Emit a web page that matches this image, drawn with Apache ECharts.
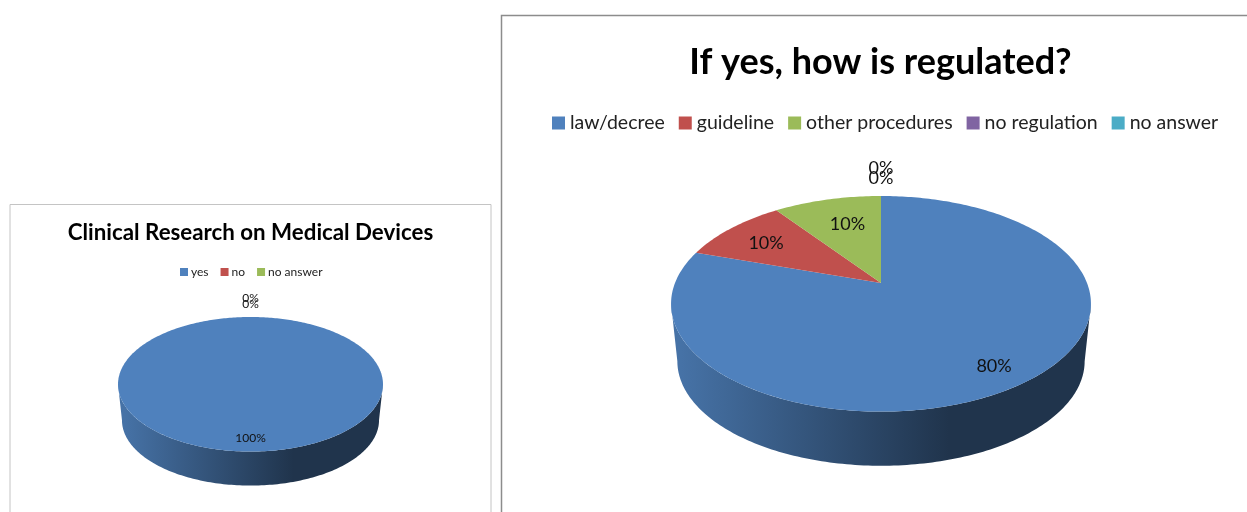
<!DOCTYPE html>
<html><head><meta charset="utf-8">
<style>html,body{margin:0;padding:0;background:#fff}#c{width:1247px;height:512px}</style>
<script src="https://cdn.jsdelivr.net/npm/echarts@6/dist/echarts.min.js"></script>
</head><body><div id="c"></div>
<script>
const leftTitle = 'Clinical Research on Medical Devices';
const leftCategories = ['yes', 'no', 'no answer'];
const leftValues = [100, 0, 0];
const rightTitle = 'If yes, how is regulated?';
const rightCategories = ['law/decree', 'guideline', 'other procedures', 'no regulation', 'no answer'];
const rightValues = [80, 10, 10, 0, 0];
const palette = ['#4F81BD', '#C0504D', '#9BBB59', '#8064A2', '#4BACC6'];

const FONT = 'Lato, "Noto Sans", sans-serif';
const leftPie = { cx: 250.5, cy: 371.3, b: 130, a: 64.8, k: -0.193, drop: 36.4, shrink: 0.97,
  reach: [0.858, 1.446, 1.307], nudge: [[0, 0], [0, 0], [0, 0]], labelSize: 12 };
const rightPie = { cx: 881, cy: 283, b: 206, a: 103.8, k: -0.193, drop: 58, shrink: 0.97,
  reach: [0.84, 0.72, 0.70, 1.40, 1.26], nudge: [[-4, 2], [-4, 1], [6, 2], [0, 0], [0, 0]], labelSize: 18 };

function shade(color, f) {
  const c = echarts.color.parse(color);
  return 'rgb(' + Math.round(c[0] * f) + ',' + Math.round(c[1] * f) + ',' + Math.round(c[2] * f) + ')';
}
function project(p, deg, rho, bottom) {
  const t = deg * Math.PI / 180, u = Math.sin(t) * rho, v = -Math.cos(t) * rho;
  const w = 1 + p.k * v, s = bottom ? p.shrink : 1;
  return [p.cx + s * p.b * u / w, p.cy + (bottom ? p.drop : 0) + s * p.a * v / w];
}
function arc(p, from, to, bottom) {
  const pts = [], n = Math.max(1, Math.ceil(Math.abs(to - from)));
  for (let i = 0; i <= n; i++) pts.push(project(p, from + (to - from) * i / n, 1, bottom));
  return pts;
}
function pieSeries(values, categories, p) {
  const total = values.reduce((a, b) => a + b, 0);
  let acc = 0;
  return values.map((value, i) => {
    const start = acc / total * 360;
    acc += value;
    const color = palette[i];
    return {
      type: 'custom', coordinateSystem: 'none', name: categories[i], data: [[value]],
      itemStyle: { color }, animation: false, silent: true,
      renderItem: function (params, api) {
        const children = [];
        const sweep = api.value(0) / total * 360;
        if (sweep > 0) {
          const lim = Math.acos(p.k) * 180 / Math.PI;
          const s = Math.max(start, lim), e = Math.min(start + sweep, 360 - lim);
          if (e > s) {
            const x0 = p.cx - p.b * p.shrink, x1 = p.cx + p.b;
            children.push({ type: 'polygon', z2: 1,
              shape: { points: arc(p, s, e, false).concat(arc(p, e, s, true)) },
              style: { fill: new echarts.graphic.LinearGradient(x0, 0, x1, 0, [
                { offset: 0, color: shade(color, 0.88) },
                { offset: 0.66, color: shade(color, 0.4) },
                { offset: 1, color: shade(color, 0.4) }], true) } });
          }
          const pts = arc(p, start, start + sweep, false);
          if (sweep < 360) pts.push(project(p, 0, 0, false));
          children.push({ type: 'polygon', z2: 2, shape: { points: pts }, style: { fill: color } });
        }
        const at = project(p, start + sweep / 2, p.reach[i], false);
        children.push({ type: 'text', z2: 10, style: { x: at[0] + p.nudge[i][0], y: at[1] + p.nudge[i][1],
          text: Math.round(api.value(0) / total * 100) + '%', align: 'center', verticalAlign: 'middle',
          fontFamily: FONT, fontSize: p.labelSize, fill: '#111' } });
        return { type: 'group', children };
      }
    };
  });
}
const legendData = cats => cats.map((name, i) => ({ name, itemStyle: { color: palette[i] } }));

const chart = echarts.init(document.getElementById('c'), null, { renderer: 'canvas' });
chart.setOption({
  backgroundColor: '#fff', animation: false,
  title: [
    { text: leftTitle, left: 250.5, top: 222, textAlign: 'center', padding: 0,
      textStyle: { fontFamily: FONT, fontWeight: 'bold', fontSize: 22.3, color: '#000' } },
    { text: rightTitle, left: 880.5, top: 44, textAlign: 'center', padding: 0,
      textStyle: { fontFamily: FONT, fontWeight: 'bold', fontSize: 36, color: '#000' } }
  ],
  legend: [
    { data: legendData(leftCategories), left: 180, top: 266, padding: 0, icon: 'rect', itemWidth: 8, itemHeight: 8,
      itemGap: 12, selectedMode: false, textStyle: { fontFamily: FONT, fontSize: 12, color: '#222', padding: [0, 0, 0, -2] } },
    { data: legendData(rightCategories), left: 552, top: 113, padding: 0, icon: 'rect', itemWidth: 13, itemHeight: 13,
      itemGap: 14, selectedMode: false, textStyle: { fontFamily: FONT, fontSize: 19.5, color: '#222' } }
  ],
  graphic: [
    { type: 'polyline', silent: true, shape: { points: [[10, 512], [10, 204.5], [491, 204.5], [491, 512]] },
      style: { fill: 'none', stroke: '#C4C4C4', lineWidth: 1 } },
    { type: 'polyline', silent: true, shape: { points: [[501.5, 512], [501.5, 15.5], [1247, 15.5]] },
      style: { fill: 'none', stroke: '#8C8C8C', lineWidth: 1.5 } }
  ],
  series: pieSeries(leftValues, leftCategories, leftPie).concat(pieSeries(rightValues, rightCategories, rightPie))
});
</script></body></html>
